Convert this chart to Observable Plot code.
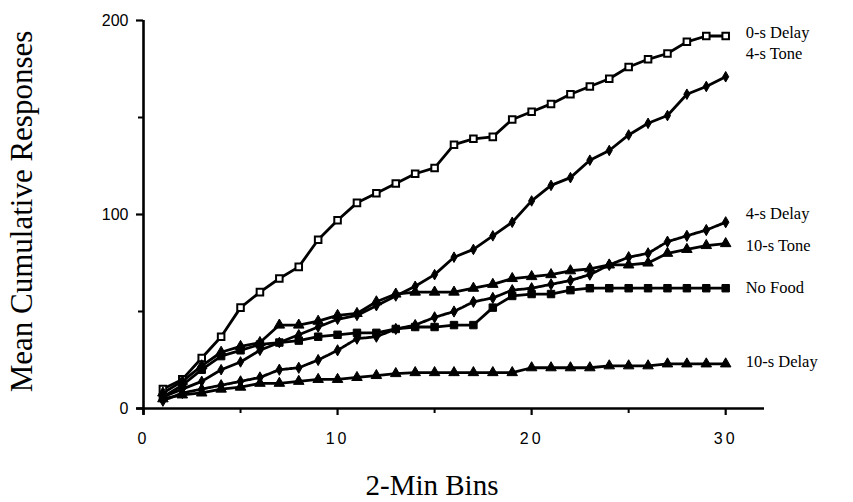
<!DOCTYPE html>
<html><head><meta charset="utf-8">
<script src="https://cdn.jsdelivr.net/npm/d3@7"></script>
<script src="https://cdn.jsdelivr.net/npm/@observablehq/plot@0.6"></script>
<style>
body{margin:0;background:#fff}
#chart svg{display:block;background:#fff}
g[aria-label="x-axis tick label"] text{letter-spacing:3px}
</style></head><body><div id="chart"></div>
<script>
const bins = [1,2,3,4,5,6,7,8,9,10,11,12,13,14,15,16,17,18,19,20,21,22,23,24,25,26,27,28,29,30];
const seriesNames = ["0-s Delay","4-s Tone","4-s Delay","10-s Tone","No Food","10-s Delay"];
const delay0  = [10,15,26,37,52,60,67,73,87,97,106,111,116,121,124,136,139,140,149,153,157,162,166,170,176,180,183,189,192,192];
const tone4   = [6,10,14,20,24,30,34,38,42,46,48,53,58,63,69,78,82,89,96,107,115,119,128,133,141,147,151,162,166,171];
const delay4  = [4,8,10,12,14,16,20,21,25,30,36,37,41,43,47,50,55,57,61,62,64,66,69,74,78,80,86,89,92,96];
const tone10  = [8,14,22,29,32,34,43,43,45,48,49,55,59,60,60,60,62,64,67,68,69,71,72,74,74,75,80,82,84,85];
const noFood  = [6,12,20,27,30,33,34,35,37,38,39,39,41,42,42,43,43,52,58,59,59,61,62,62,62,62,62,62,62,62];
const delay10 = [5,7,8,10,11,13,13,14,15,15,16,17,18,18.5,18.5,18.5,18.5,18.5,18.5,21,21,21,21,22,22,22,23,23,23,23];
const labelValues = [193.5,183,100.5,84,62.4,24];
const xTicks = [0,10,20,30];
const xMinor = [5,15,25];
const yTicks = [0,100,200];
const yMinor = [50,150];

const valueSets = [delay0,tone4,delay4,tone10,noFood,delay10];
const rows = seriesNames.map((s,i)=>bins.map((b,j)=>({series:s,bin:b,value:valueSets[i][j]})));
const labels = seriesNames.map((s,i)=>({series:s,bin:30,value:labelValues[i]}));

const serif = "Liberation Serif, Times New Roman, serif";
const sans = "Liberation Sans, Arial, sans-serif";

const styles = [
  {dash:null, symbol:"square", fill:"white", r:3.7, sw:2},
  {dash:null, symbol:"diamond", fill:"black", r:3.2, sw:1},
  {dash:"2,1.2", symbol:"diamond", fill:"black", r:3.4, sw:1},
  {dash:null, symbol:"triangle", fill:"black", r:3.9, sw:1},
  {dash:null, symbol:"square", fill:"black", r:4.2, sw:1},
  {dash:null, symbol:"triangle", fill:"black", r:3.9, sw:1}
];

const marks = [];
rows.forEach((data,i)=>{
  const st = styles[i];
  marks.push(Plot.line(data,{x:"bin",y:"value",stroke:"black",strokeWidth:2.8,strokeDasharray:st.dash}));
});
rows.forEach((data,i)=>{
  const st = styles[i];
  marks.push(Plot.dot(data,{x:"bin",y:"value",symbol:()=>st.symbol,r:st.r,fill:st.fill,stroke:"black",strokeWidth:st.sw}));
});

const chart = Plot.plot({
  width:853, height:502,
  marginLeft:143, marginRight:89, marginTop:20, marginBottom:94,
  style:{background:"white", color:"black"},
  x:{domain:[0,32], axis:null},
  y:{domain:[0,200], axis:null},
  symbol:{type:"identity"},
  marks:[
    Plot.ruleX([0],{y1:-3.5,y2:200,stroke:"black",strokeWidth:2.6}),
    Plot.ruleY([0],{x1:-0.35,x2:32,stroke:"black",strokeWidth:2.6}),
    Plot.axisY({ticks:yTicks,tickSize:7,tickPadding:8,fontSize:16,fontFamily:sans,strokeWidth:2.2,label:null,tickFormat:d=>String(d)}),
    Plot.axisY({ticks:yMinor,tickSize:5,strokeWidth:2,label:null,tickFormat:()=>""}),
    Plot.axisX({ticks:xTicks,tickSize:7,tickPadding:17,fontSize:16,fontFamily:sans,strokeWidth:2.2,label:null,tickFormat:d=>String(d)}),
    Plot.axisX({ticks:xMinor,tickSize:5,strokeWidth:2,label:null,tickFormat:()=>""}),
    Plot.text(["Mean Cumulative Responses"],{frameAnchor:"left",textAnchor:"middle",rotate:-90,dx:-121,dy:-3,fontSize:31,fontFamily:serif,fill:"black"}),
    Plot.text(["2-Min Bins"],{frameAnchor:"bottom",dy:86,dx:-22,fontSize:29,fontFamily:serif,fill:"black"}),
    ...marks,
    Plot.text(labels,{x:"bin",y:"value",text:"series",dx:20,textAnchor:"start",fontSize:16.5,fontFamily:serif,fill:"black"})
  ]
});
document.getElementById("chart").appendChild(chart);
</script></body></html>
